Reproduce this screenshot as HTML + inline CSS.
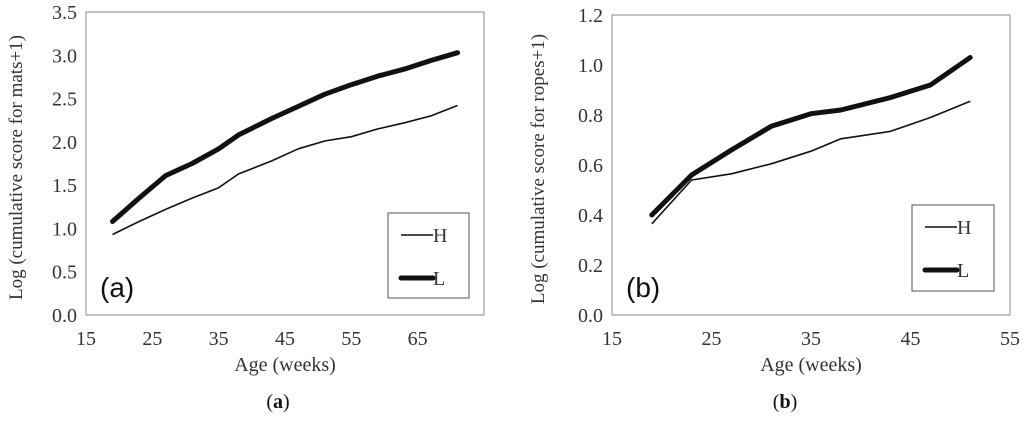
<!DOCTYPE html>
<html><head><meta charset="utf-8"><style>
body{margin:0;background:#fff;width:1024px;height:417px;overflow:hidden}
svg text{font-family:"Liberation Serif",serif;fill:#333}
</style></head><body>
<svg id="s" width="1024" height="417"></svg>
<script>
const xA=[19,23,27,31,35,38,43,47,51,55,59,63,67,71];
const hA=[0.93,1.08,1.22,1.35,1.47,1.63,1.78,1.92,2.01,2.06,2.15,2.22,2.30,2.42];
const lA=[1.08,1.35,1.61,1.75,1.92,2.08,2.27,2.41,2.55,2.66,2.76,2.84,2.94,3.03];
const xTicksA=[15,25,35,45,55,65];
const yTicksA=[0,0.5,1,1.5,2,2.5,3,3.5];
const xB=[19,23,27,31,35,38,43,47,51];
const hB=[0.365,0.54,0.565,0.605,0.655,0.705,0.735,0.79,0.855];
const lB=[0.40,0.56,0.66,0.755,0.805,0.82,0.87,0.92,1.03];
const xTicksB=[15,25,35,45,55];
const yTicksB=[0,0.2,0.4,0.6,0.8,1.0,1.2];
const NS="http://www.w3.org/2000/svg";
const svg=document.getElementById('s');
function mk(t,a,p){const e=document.createElementNS(NS,t);for(const k in a)e.setAttribute(k,a[k]);(p||svg).appendChild(e);return e;}
function chart(o){
 const g=mk('g',{});
 
 
 const sx=v=>o.x0+(v-o.xmin)/(o.xmax-o.xmin)*(o.x1-o.x0);
 const sy=v=>o.y1-(v-o.ymin)/(o.ymax-o.ymin)*(o.y1-o.y0);
 const box=mk('rect',{x:o.x0,y:o.y0,width:o.x1-o.x0,height:o.y1-o.y0,fill:'none',stroke:'#888','stroke-width':1},g);
 
 
 o.yt.forEach(v=>{const t=mk('text',{x:o.x0-9,y:sy(v)+7,'text-anchor':'end','font-size':20},g);t.textContent=v.toFixed(1);
  
  });
 o.xt.forEach(v=>{const t=mk('text',{x:sx(v),y:o.y1+30,'text-anchor':'middle','font-size':20},g);t.textContent=v;
  
  });
 const xt=mk('text',{x:(o.x0+o.x1)/2,y:o.y1+56,'text-anchor':'middle','font-size':20},g);xt.textContent='Age (weeks)';
 
 
 const cy=(o.y0+o.y1)/2+4;
 const yt=mk('text',{x:o.ytx,y:cy,'text-anchor':'middle','font-size':19,transform:`rotate(-90 ${o.ytx} ${cy})`},g);yt.textContent=o.ytitle;
 
 
 const pts=(xs,ys)=>xs.map((x,i)=>sx(x).toFixed(1)+','+sy(ys[i]).toFixed(1)).join(' ');
 const h=mk('polyline',{points:pts(o.xs,o.h),fill:'none',stroke:'#111','stroke-width':1.6,'stroke-linejoin':'round'},g);
 
 
 const l=mk('polyline',{points:pts(o.xs,o.l),fill:'none',stroke:'#111','stroke-width':5,'stroke-linejoin':'round','stroke-linecap':'round'},g);
 
 
 const lg=mk('g',{},g);
 
 
 const [lx,ly,lw,lh]=o.leg;
 mk('rect',{x:lx,y:ly,width:lw,height:lh,fill:'#fff',stroke:'#555','stroke-width':1},lg);
 mk('line',{x1:lx+13,x2:lx+45,y1:ly+22,y2:ly+22,stroke:'#111','stroke-width':1.6},lg);
 const th=mk('text',{x:lx+45,y:ly+29,'font-size':20},lg);th.textContent='H';
 
 
 mk('line',{x1:lx+13,x2:lx+45,y1:ly+65,y2:ly+65,stroke:'#111','stroke-width':5,'stroke-linecap':'round'},lg);
 const tl=mk('text',{x:lx+45,y:ly+72,'font-size':20},lg);tl.textContent='L';
 
 
 const pl=mk('text',{x:o.x0+14,y:o.y1-18,'font-size':28,style:'font-family:"Liberation Sans",sans-serif;fill:#111'},g);pl.textContent=o.panel;
 
 
 const cp=mk('text',{x:o.cap,y:408,'text-anchor':'middle','font-size':20,style:'fill:#111'},g);
 cp.innerHTML='(<tspan font-weight="bold">'+o.panel.slice(1,2)+'</tspan>)';
 
 
}
chart({name:'chart-a',x0:86,x1:484,y0:12,y1:315,xmin:15,xmax:75,ymin:0,ymax:3.5,xt:xTicksA,yt:yTicksA,xs:xA,h:hA,l:lA,
 ytitle:'Log (cumulative score for mats+1)',ytx:22,leg:[388,213,81,85],panel:'(a)',cap:278});
chart({name:'chart-b',x0:612,x1:1010,y0:15,y1:315,xmin:15,xmax:55,ymin:0,ymax:1.2,xt:xTicksB,yt:yTicksB,xs:xB,h:hB,l:lB,
 ytitle:'Log (cumulative score for ropes+1)',ytx:544,leg:[912,205,82,86],panel:'(b)',cap:785});
</script>
</body></html>
